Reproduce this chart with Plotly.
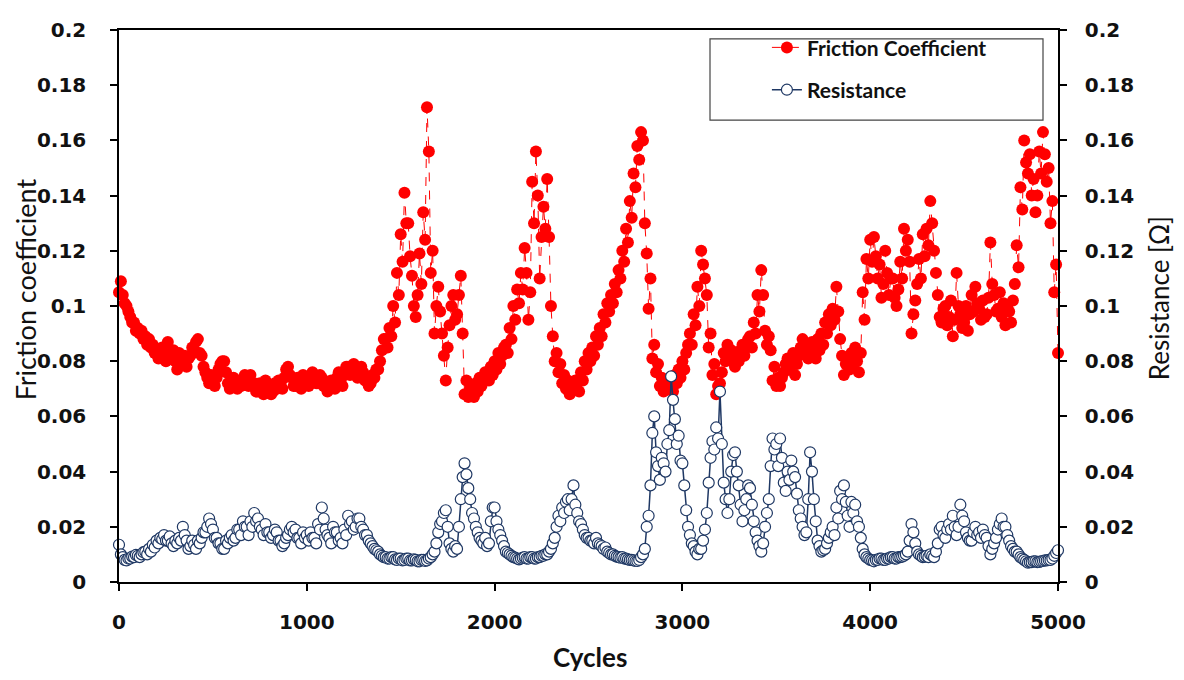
import plotly.graph_objects as go

# cycles sampled every 10 from 0 to 5000
cycles = list(range(0, 5001, 10))

friction = [
    0.105, 0.109, 0.104, 0.101, 0.100, 0.098, 0.096, 0.094, 0.094, 0.091, 0.092, 0.090, 0.091, 0.088, 0.089, 0.086, 0.088, 0.085, 0.086, 0.083,
    0.084, 0.081, 0.082, 0.085, 0.083, 0.080, 0.087, 0.082, 0.081, 0.084, 0.080, 0.077, 0.083, 0.080, 0.079, 0.082, 0.078, 0.081, 0.082, 0.085,
    0.084, 0.087, 0.088, 0.083, 0.082, 0.078, 0.076, 0.074, 0.072, 0.075, 0.073, 0.071, 0.074, 0.077, 0.079, 0.080, 0.080, 0.076, 0.072, 0.070,
    0.071, 0.074, 0.072, 0.070, 0.073, 0.071, 0.072, 0.075, 0.074, 0.071, 0.075, 0.072, 0.072, 0.069, 0.069, 0.072, 0.071, 0.068, 0.073, 0.071,
    0.071, 0.068, 0.069, 0.072, 0.070, 0.073, 0.072, 0.070, 0.074, 0.077, 0.078, 0.075, 0.074, 0.071, 0.071, 0.074, 0.072, 0.070, 0.075, 0.073,
    0.074, 0.071, 0.073, 0.076, 0.075, 0.072, 0.072, 0.075, 0.074, 0.071, 0.071, 0.069, 0.070, 0.073, 0.072, 0.070, 0.074, 0.076, 0.073, 0.071,
    0.075, 0.078, 0.078, 0.075, 0.076, 0.079, 0.077, 0.074, 0.076, 0.078, 0.076, 0.073, 0.074, 0.071, 0.072, 0.075, 0.074, 0.077, 0.077, 0.080,
    0.084, 0.088, 0.088, 0.085, 0.092, 0.089, 0.100, 0.094, 0.112, 0.104, 0.126, 0.116, 0.141, 0.130, 0.130, 0.118, 0.111, 0.100, 0.096, 0.104,
    0.119, 0.108, 0.134, 0.124, 0.172, 0.156, 0.112, 0.120, 0.090, 0.100, 0.107, 0.098, 0.090, 0.082, 0.073, 0.085, 0.093, 0.100, 0.104, 0.095,
    0.097, 0.104, 0.111, 0.090, 0.068, 0.073, 0.067, 0.070, 0.070, 0.067, 0.072, 0.069, 0.074, 0.071, 0.073, 0.076, 0.076, 0.073, 0.078, 0.075,
    0.080, 0.077, 0.083, 0.079, 0.082, 0.085, 0.086, 0.083, 0.092, 0.088, 0.100, 0.095, 0.106, 0.101, 0.112, 0.106, 0.121, 0.112, 0.095, 0.105,
    0.145, 0.130, 0.156, 0.140, 0.110, 0.125, 0.136, 0.128, 0.146, 0.125, 0.100, 0.089, 0.080, 0.083, 0.076, 0.079, 0.072, 0.075, 0.070, 0.073,
    0.068, 0.071, 0.070, 0.073, 0.072, 0.069, 0.076, 0.073, 0.080, 0.077, 0.083, 0.080, 0.085, 0.082, 0.089, 0.086, 0.092, 0.089, 0.097, 0.094,
    0.101, 0.098, 0.104, 0.101, 0.108, 0.105, 0.113, 0.110, 0.120, 0.116, 0.128, 0.123, 0.138, 0.132, 0.148, 0.143, 0.158, 0.153, 0.163, 0.160,
    0.130, 0.119, 0.099, 0.110, 0.081, 0.086, 0.076, 0.079, 0.071, 0.074, 0.069, 0.072, 0.070, 0.073, 0.072, 0.069, 0.075, 0.072, 0.077, 0.074,
    0.080, 0.077, 0.083, 0.086, 0.090, 0.086, 0.097, 0.093, 0.107, 0.100, 0.120, 0.115, 0.110, 0.104, 0.085, 0.090, 0.075, 0.079, 0.068, 0.071,
    0.072, 0.076, 0.083, 0.080, 0.086, 0.082, 0.084, 0.080, 0.078, 0.081, 0.080, 0.084, 0.086, 0.082, 0.085, 0.088, 0.089, 0.085, 0.094, 0.090,
    0.104, 0.098, 0.113, 0.104, 0.091, 0.086, 0.089, 0.084, 0.073, 0.078, 0.071, 0.074, 0.071, 0.074, 0.076, 0.079, 0.081, 0.077, 0.080, 0.083,
    0.075, 0.079, 0.082, 0.085, 0.088, 0.083, 0.085, 0.081, 0.083, 0.087, 0.085, 0.081, 0.088, 0.084, 0.090, 0.086, 0.094, 0.090, 0.097, 0.093,
    0.099, 0.095, 0.107, 0.098, 0.088, 0.082, 0.075, 0.079, 0.081, 0.077, 0.083, 0.079, 0.085, 0.080, 0.076, 0.083, 0.105, 0.095, 0.117, 0.110,
    0.124, 0.116, 0.125, 0.118, 0.110, 0.115, 0.103, 0.108, 0.120, 0.112, 0.104, 0.110, 0.110, 0.103, 0.100, 0.106, 0.116, 0.110, 0.128, 0.120,
    0.124, 0.116, 0.090, 0.097, 0.102, 0.108, 0.117, 0.110, 0.126, 0.118, 0.128, 0.122, 0.138, 0.130, 0.120, 0.112, 0.104, 0.096, 0.094, 0.099,
    0.100, 0.093, 0.096, 0.102, 0.089, 0.095, 0.112, 0.100, 0.097, 0.092, 0.094, 0.100, 0.091, 0.097, 0.104, 0.098, 0.107, 0.101, 0.099, 0.095,
    0.102, 0.096, 0.097, 0.103, 0.123, 0.108, 0.104, 0.098, 0.099, 0.105, 0.096, 0.101, 0.093, 0.099, 0.098, 0.094, 0.102, 0.108, 0.122, 0.114,
    0.143, 0.135, 0.160, 0.152, 0.148, 0.155, 0.140, 0.146, 0.134, 0.140, 0.156, 0.148, 0.163, 0.155, 0.145, 0.150, 0.130, 0.138, 0.105, 0.115,
    0.083,
]

resistance = [
    0.0135, 0.0100, 0.0090, 0.0080, 0.0078, 0.0085, 0.0085, 0.0092, 0.0090, 0.0098, 0.0095, 0.0090, 0.0100, 0.0108, 0.0110, 0.0100, 0.0120, 0.0110, 0.0135, 0.0125,
    0.0150, 0.0140, 0.0160, 0.0155, 0.0170, 0.0150, 0.0150, 0.0165, 0.0140, 0.0130, 0.0150, 0.0140, 0.0160, 0.0150, 0.0200, 0.0170, 0.0150, 0.0120, 0.0130, 0.0150,
    0.0135, 0.0120, 0.0150, 0.0140, 0.0160, 0.0180, 0.0180, 0.0200, 0.0230, 0.0210, 0.0190, 0.0160, 0.0160, 0.0140, 0.0140, 0.0120, 0.0120, 0.0150, 0.0140, 0.0160,
    0.0170, 0.0150, 0.0160, 0.0190, 0.0190, 0.0170, 0.0220, 0.0200, 0.0200, 0.0170, 0.0220, 0.0200, 0.0250, 0.0220, 0.0230, 0.0200, 0.0190, 0.0170, 0.0210, 0.0180,
    0.0180, 0.0160, 0.0170, 0.0190, 0.0180, 0.0150, 0.0150, 0.0130, 0.0140, 0.0160, 0.0170, 0.0190, 0.0200, 0.0180, 0.0190, 0.0160, 0.0160, 0.0140, 0.0180, 0.0160,
    0.0170, 0.0150, 0.0180, 0.0160, 0.0160, 0.0140, 0.0210, 0.0190, 0.0270, 0.0230, 0.0190, 0.0170, 0.0160, 0.0140, 0.0200, 0.0180, 0.0180, 0.0150, 0.0160, 0.0140,
    0.0190, 0.0170, 0.0240, 0.0210, 0.0220, 0.0190, 0.0200, 0.0230, 0.0230, 0.0200, 0.0190, 0.0170, 0.0170, 0.0150, 0.0140, 0.0130, 0.0120, 0.0115, 0.0110, 0.0100,
    0.0095, 0.0090, 0.0090, 0.0085, 0.0085, 0.0090, 0.0090, 0.0082, 0.0080, 0.0085, 0.0085, 0.0078, 0.0080, 0.0085, 0.0085, 0.0078, 0.0078, 0.0082, 0.0080, 0.0075,
    0.0075, 0.0080, 0.0080, 0.0076, 0.0078, 0.0085, 0.0090, 0.0100, 0.0110, 0.0140, 0.0180, 0.0210, 0.0220, 0.0250, 0.0260, 0.0200, 0.0140, 0.0120, 0.0110, 0.0130,
    0.0120, 0.0200, 0.0300, 0.0380, 0.0430, 0.0390, 0.0340, 0.0300, 0.0250, 0.0230, 0.0200, 0.0180, 0.0160, 0.0150, 0.0140, 0.0160, 0.0130, 0.0140, 0.0220, 0.0270,
    0.0270, 0.0220, 0.0190, 0.0170, 0.0150, 0.0130, 0.0110, 0.0105, 0.0100, 0.0095, 0.0090, 0.0088, 0.0085, 0.0082, 0.0085, 0.0088, 0.0090, 0.0085, 0.0085, 0.0090,
    0.0090, 0.0085, 0.0085, 0.0090, 0.0090, 0.0095, 0.0095, 0.0100, 0.0100, 0.0110, 0.0120, 0.0140, 0.0160, 0.0200, 0.0240, 0.0220, 0.0270, 0.0250, 0.0290, 0.0300,
    0.0260, 0.0300, 0.0350, 0.0280, 0.0250, 0.0220, 0.0210, 0.0190, 0.0170, 0.0160, 0.0160, 0.0150, 0.0150, 0.0140, 0.0160, 0.0140, 0.0135, 0.0130, 0.0120, 0.0125,
    0.0110, 0.0105, 0.0100, 0.0100, 0.0095, 0.0092, 0.0090, 0.0088, 0.0090, 0.0085, 0.0085, 0.0082, 0.0080, 0.0080, 0.0078, 0.0076, 0.0076, 0.0080, 0.0090, 0.0100,
    0.0120, 0.0200, 0.0240, 0.0350, 0.0540, 0.0600, 0.0470, 0.0420, 0.0370, 0.0450, 0.0430, 0.0400, 0.0500, 0.0550, 0.0745, 0.0660, 0.0590, 0.0500, 0.0530, 0.0440,
    0.0430, 0.0350, 0.0260, 0.0200, 0.0170, 0.0140, 0.0130, 0.0110, 0.0100, 0.0120, 0.0120, 0.0150, 0.0190, 0.0250, 0.0360, 0.0450, 0.0510, 0.0480, 0.0560, 0.0520,
    0.0690, 0.0500, 0.0360, 0.0300, 0.0250, 0.0300, 0.0400, 0.0460, 0.0470, 0.0400, 0.0350, 0.0280, 0.0220, 0.0260, 0.0300, 0.0350, 0.0340, 0.0280, 0.0220, 0.0180,
    0.0150, 0.0130, 0.0110, 0.0140, 0.0200, 0.0250, 0.0300, 0.0420, 0.0520, 0.0480, 0.0500, 0.0420, 0.0520, 0.0450, 0.0360, 0.0330, 0.0400, 0.0370, 0.0440, 0.0400,
    0.0380, 0.0320, 0.0260, 0.0230, 0.0200, 0.0170, 0.0180, 0.0300, 0.0470, 0.0400, 0.0300, 0.0220, 0.0150, 0.0130, 0.0110, 0.0115, 0.0120, 0.0140, 0.0160, 0.0180,
    0.0200, 0.0170, 0.0270, 0.0230, 0.0330, 0.0300, 0.0350, 0.0290, 0.0240, 0.0200, 0.0290, 0.0250, 0.0280, 0.0220, 0.0200, 0.0160, 0.0120, 0.0100, 0.0090, 0.0085,
    0.0080, 0.0078, 0.0075, 0.0080, 0.0080, 0.0085, 0.0085, 0.0080, 0.0080, 0.0085, 0.0085, 0.0090, 0.0090, 0.0085, 0.0085, 0.0090, 0.0090, 0.0092, 0.0095, 0.0100,
    0.0110, 0.0150, 0.0210, 0.0180, 0.0140, 0.0110, 0.0100, 0.0095, 0.0090, 0.0092, 0.0095, 0.0090, 0.0100, 0.0095, 0.0090, 0.0110, 0.0140, 0.0190, 0.0200, 0.0170,
    0.0160, 0.0190, 0.0210, 0.0190, 0.0240, 0.0200, 0.0170, 0.0200, 0.0280, 0.0240, 0.0220, 0.0180, 0.0160, 0.0150, 0.0150, 0.0180, 0.0200, 0.0170, 0.0180, 0.0160,
    0.0190, 0.0170, 0.0160, 0.0130, 0.0100, 0.0120, 0.0140, 0.0160, 0.0190, 0.0210, 0.0230, 0.0200, 0.0200, 0.0170, 0.0150, 0.0130, 0.0120, 0.0110, 0.0110, 0.0100,
    0.0090, 0.0085, 0.0080, 0.0075, 0.0070, 0.0072, 0.0072, 0.0075, 0.0075, 0.0072, 0.0073, 0.0075, 0.0076, 0.0078, 0.0078, 0.0080, 0.0080, 0.0085, 0.0095, 0.0105,
    0.0115,
]

y_ticks = [0, 0.02, 0.04, 0.06, 0.08, 0.1, 0.12, 0.14, 0.16, 0.18, 0.2]
y_tick_text = ["0", "0.02", "0.04", "0.06", "0.08", "0.1", "0.12", "0.14", "0.16", "0.18", "0.2"]
x_ticks = [0, 1000, 2000, 3000, 4000, 5000]

RED = "#FF0000"
NAVY = "#1F3864"
TICKFONT = dict(family="DejaVu Sans", size=20, color="#111111", weight="bold")

fig = go.Figure()
fig.add_trace(go.Scatter(
    x=cycles, y=friction, name="Friction Coefficient", mode="lines+markers",
    line=dict(color=RED, width=1, dash="dash"),
    marker=dict(symbol="circle", size=12, color=RED, line=dict(width=0)),
    legendgroup="a", cliponaxis=False,
))
fig.add_trace(go.Scatter(
    x=cycles, y=resistance, name="Resistance", mode="lines+markers", yaxis="y2",
    line=dict(color=NAVY, width=1.5),
    marker=dict(symbol="circle", size=11, color="white", line=dict(width=1.2, color=NAVY)),
    legendgroup="b", cliponaxis=False,
))

# page has an 8px body margin, so the figure is 16px smaller than the window
fig.update_layout(
    width=1168, height=664,
    margin=dict(l=111, r=118, t=10, b=90),
    paper_bgcolor="white", plot_bgcolor="white",
    showlegend=True,
    legend=dict(
        x=0.690, y=1.005, xanchor="left", yanchor="top",
        bgcolor="rgba(0,0,0,0)", borderwidth=0,
        font=dict(family="Lato", size=21, color="#111111", weight="bold"),
        traceorder="grouped", tracegroupgap=12,
    ),
    xaxis=dict(
        range=[0, 5000], tickvals=x_ticks, tickformat="d",
        showline=True, linecolor="black", linewidth=1.5, mirror=True,
        ticks="outside", ticklen=7, tickwidth=1.5, tickcolor="black",
        showgrid=False, zeroline=False, tickfont=TICKFONT, ticklabelstandoff=14,
    ),
    yaxis=dict(
        range=[0, 0.2], tickvals=y_ticks, ticktext=y_tick_text,
        showline=True, linecolor="black", linewidth=1.5,
        ticks="outside", ticklen=7, tickwidth=1.5, tickcolor="black",
        showgrid=False, zeroline=False, tickfont=TICKFONT, ticklabelstandoff=20,
    ),
    yaxis2=dict(
        range=[0, 0.2], tickvals=y_ticks, ticktext=y_tick_text,
        overlaying="y", side="right", anchor="x",
        showline=True, linecolor="black", linewidth=1.5,
        ticks="outside", ticklen=7, tickwidth=1.5, tickcolor="black",
        showgrid=False, zeroline=False, tickfont=TICKFONT, ticklabelstandoff=14,
    ),
    shapes=[dict(
        type="rect", xref="paper", yref="paper",
        x0=(710 - 119) / 939, x1=(1043 - 119) / 939,
        y0=(582 - 110) / 564, y1=(582 - 27) / 564,
        line=dict(color="#444444", width=1.2), fillcolor="white", layer="below",
    )],
    annotations=[
        dict(text="Friction coefficient", xref="paper", yref="paper",
             x=(25 - 119) / 939, y=(582 - 283) / 564, textangle=-90, showarrow=False,
             xanchor="center", yanchor="middle", borderpad=0,
             font=dict(family="Lato", size=27, color="#111111")),
        dict(text="Resistance [Ω]", xref="paper", yref="paper",
             x=(1159 - 119) / 939, y=(582 - 292) / 564, textangle=-90, showarrow=False,
             xanchor="center", yanchor="middle", borderpad=0,
             font=dict(family="Lato", size=26, color="#111111")),
        dict(text="<b>Cycles</b>", xref="paper", yref="paper",
             x=(590 - 119) / 939, y=(582 - 659) / 564, showarrow=False,
             xanchor="center", yanchor="middle",
             font=dict(family="Lato", size=26, color="#111111")),
    ],
)

fig.write_html("out.html")
